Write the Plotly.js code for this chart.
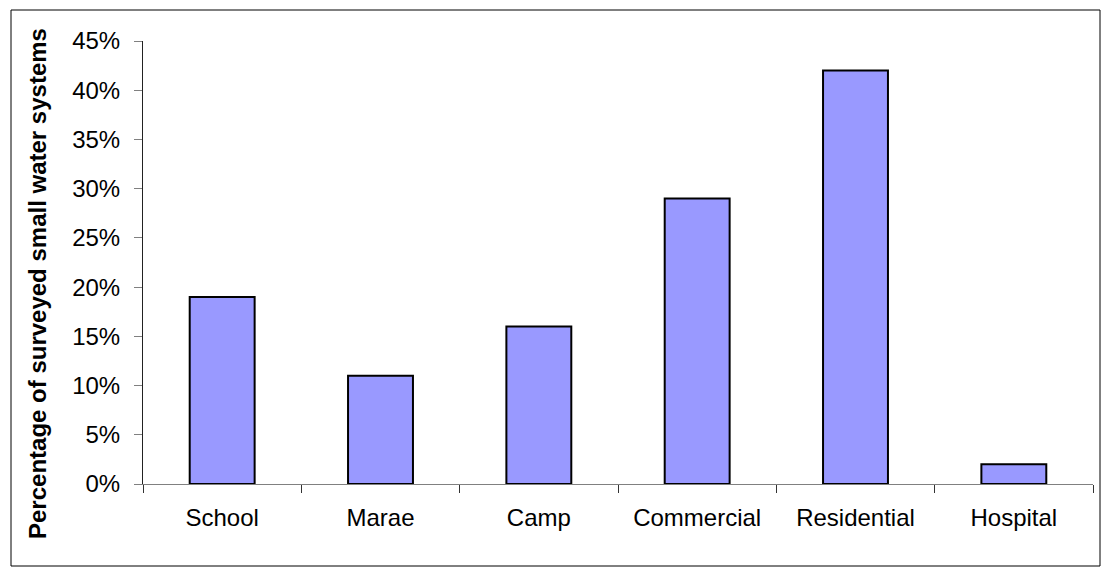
<!DOCTYPE html>
<html>
<head>
<meta charset="utf-8">
<script src="https://cdn.plot.ly/plotly-3.0.1.min.js"></script>
<style>
  html, body { margin: 0; padding: 0; background: #fff; }
  #chart { width: 1101px; height: 567px; }
</style>
</head>
<body>
<div id="chart"></div>
<script>
const categories = ['School', 'Marae', 'Camp', 'Commercial', 'Residential', 'Hospital'];
const shares = [0.19, 0.11, 0.16, 0.29, 0.42, 0.02];
const yTickValues = [0, 0.05, 0.10, 0.15, 0.20, 0.25, 0.30, 0.35, 0.40, 0.45];
const yTitle = 'Percentage of surveyed small water systems';

const W = 1101, H = 567;
const L = 143, R = 8, T = 41, B = 83;
const pw = W - L - R, ph = H - T - B;
const px = v => (v - L) / pw;
const py = v => (H - B - v) / ph;

const font = 'Liberation Sans, Arial, sans-serif';

Plotly.newPlot('chart', [{
  type: 'bar',
  x: categories,
  y: shares,
  marker: { color: '#9999FF', line: { color: '#000000', width: 2 } },
  hoverinfo: 'x+y'
}], {
  width: W, height: H,
  margin: { l: L, r: R, t: T, b: B, pad: 0 },
  paper_bgcolor: '#ffffff',
  plot_bgcolor: '#ffffff',
  bargap: 0.59,
  showlegend: false,
  font: { family: font, size: 24, color: '#000' },
  xaxis: {
    type: 'category',
    tickson: 'boundaries',
    ticks: 'outside', ticklen: 8, tickwidth: 1, tickcolor: '#333',
    ticklabelstandoff: 12,
    showline: true, linecolor: '#808080', linewidth: 1,
    showgrid: false, zeroline: false,
    tickfont: { family: font, size: 24, color: '#000' },
    fixedrange: true
  },
  yaxis: {
    range: [0, 0.45],
    tickvals: yTickValues,
    tickformat: '.0%',
    ticks: 'outside', ticklen: 8, tickwidth: 1, tickcolor: '#808080',
    ticklabelstandoff: 9,
    showline: true, linecolor: '#222', linewidth: 1,
    showgrid: false, zeroline: false,
    tickfont: { family: font, size: 24, color: '#000' },
    fixedrange: true
  },
  annotations: [{
    xref: 'paper', yref: 'paper',
    x: px(37), y: py(284),
    xanchor: 'center', yanchor: 'middle',
    text: '<b>' + yTitle + '</b>',
    textangle: -90,
    showarrow: false,
    font: { family: font, size: 24, color: '#000' }
  }],
  shapes: [{
    type: 'rect', xref: 'paper', yref: 'paper',
    x0: px(11), x1: px(1100), y0: py(566), y1: py(10),
    line: { color: '#000', width: 1 }, fillcolor: 'rgba(0,0,0,0)'
  }]
}, { displayModeBar: false, staticPlot: true });
</script>
</body>
</html>
